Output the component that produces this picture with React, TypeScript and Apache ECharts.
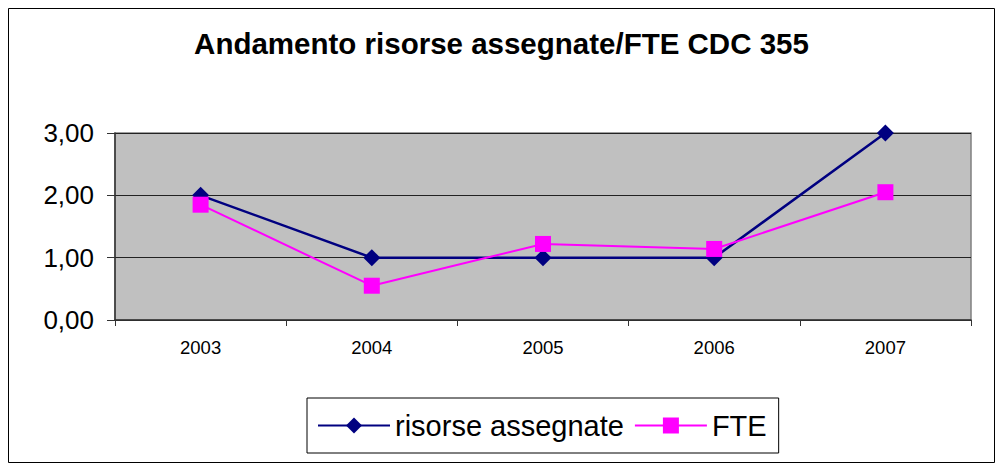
import React, { useEffect, useRef } from "react";
import * as echarts from "echarts";

const categories = ["2003", "2004", "2005", "2006", "2007"];
const risorseAssegnate = [2, 1, 1, 1, 3];
const fte = [1.85, 0.55, 1.22, 1.14, 2.05];
const yTicks = { min: 0, max: 3, interval: 1 };
const titleText = "Andamento risorse assegnate/FTE CDC 355";

const FONT = "'Liberation Sans', Arial, sans-serif";

export default function App() {
  const ref = useRef<HTMLDivElement>(null);
  useEffect(() => {
    if (!ref.current) return;
    const chart = echarts.init(ref.current, undefined, { renderer: "svg" });
    chart.setOption({
      animation: false,
      backgroundColor: "#ffffff",
      graphic: [
        {
          type: "rect",
          shape: { x: 8.5, y: 8.5, width: 986, height: 454 },
          style: { fill: "none", stroke: "#000000", lineWidth: 1 },
          silent: true,
        },
        {
          type: "text",
          x: 501.5,
          y: 43,
          style: {
            text: titleText,
            fontSize: 29.5,
            fontWeight: "bold",
            fontFamily: FONT,
            fill: "#000000",
            textAlign: "center",
            textVerticalAlign: "middle",
          },
        },
      ],
      grid: {
        left: 115,
        right: 30,
        top: 133,
        bottom: 149,
        show: true,
        backgroundColor: "#C0C0C0",
        borderColor: "#808080",
        borderWidth: 1.5,
      },
      legend: {
        left: 307,
        top: 398,
        orient: "horizontal",
        borderColor: "#000000",
        borderWidth: 1,
        padding: [13, 12, 13, 10],
        itemGap: 10,
        itemWidth: 72,
        itemHeight: 20,
        textStyle: { fontSize: 29, fontFamily: FONT, color: "#000000" },
        data: ["risorse assegnate", "FTE"],
      },
      xAxis: {
        type: "category",
        data: categories,
        boundaryGap: true,
        axisLine: { lineStyle: { color: "#333333", width: 1.5 } },
        axisTick: { show: true, interval: 0, length: 6, lineStyle: { color: "#333333" } },
        axisLabel: { fontSize: 18.5, fontFamily: FONT, color: "#000000", margin: 18 },
        splitLine: { show: false },
      },
      yAxis: {
        type: "value",
        min: yTicks.min,
        max: yTicks.max,
        interval: yTicks.interval,
        axisLine: { show: true, lineStyle: { color: "#333333", width: 1.5 } },
        axisTick: { show: true, length: 8, lineStyle: { color: "#333333" } },
        axisLabel: {
          fontSize: 26,
          fontFamily: FONT,
          color: "#000000",
          margin: 21,
          formatter: (v: number) => v.toFixed(2).replace(".", ","),
        },
        splitLine: { show: true, lineStyle: { color: "#222222", width: 1 } },
      },
      series: [
        {
          name: "risorse assegnate",
          type: "line",
          data: risorseAssegnate,
          symbol: "diamond",
          symbolSize: 17,
          itemStyle: { color: "#000080" },
          lineStyle: { color: "#000080", width: 2.5 },
          z: 3,
        },
        {
          name: "FTE",
          type: "line",
          data: fte,
          symbol: "rect",
          symbolSize: 16,
          itemStyle: { color: "#FF00FF" },
          lineStyle: { color: "#FF00FF", width: 2 },
          z: 4,
        },
      ],
    });
    return () => chart.dispose();
  }, []);
  return (
    <div
      ref={ref}
      style={{ position: "absolute", left: 0, top: 0, width: 1001, height: 469 }}
    />
  );
}
